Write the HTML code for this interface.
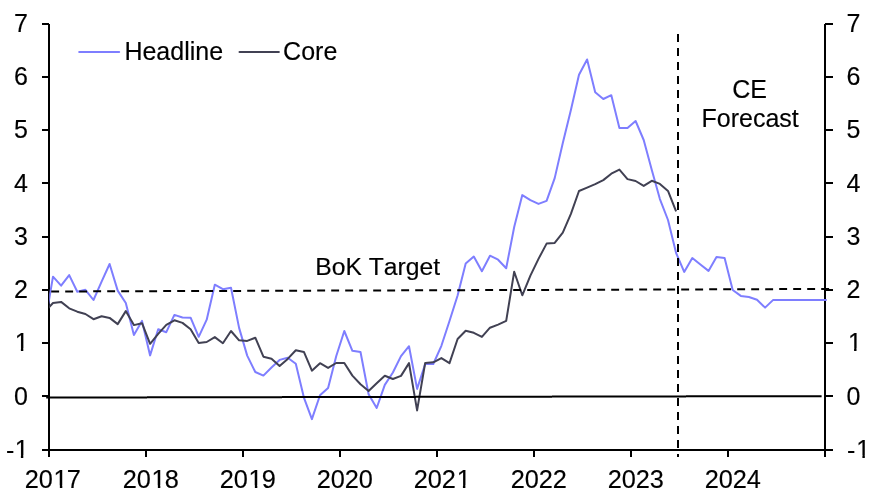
<!DOCTYPE html>
<html lang="en"><head><meta charset="utf-8"><title>Chart</title>
<style>
html,body{margin:0;padding:0;background:#fff;}
body{width:885px;height:497px;overflow:hidden;}
svg{display:block;}
text{font-family:"Liberation Sans",sans-serif;font-size:25px;fill:#000;font-kerning:none;stroke:#000;stroke-width:0.15px;stroke-linejoin:round;}
</style></head><body>
<svg width="885" height="497" viewBox="0 0 885 497">
<rect x="0" y="0" width="885" height="497" fill="#fff"/>
<defs><clipPath id="plot"><rect x="49.2" y="20" width="777.6" height="432"/></clipPath></defs>

<g fill="#000" shape-rendering="crispEdges">
<rect x="48" y="24" width="2" height="427"/>
<rect x="824" y="24" width="2" height="427"/>
<rect x="42" y="449" width="784" height="2"/>
<rect x="42" y="23" width="7" height="2"/>
<rect x="825" y="23" width="8" height="2"/>
<rect x="42" y="76" width="7" height="2"/>
<rect x="825" y="76" width="8" height="2"/>
<rect x="42" y="129" width="7" height="2"/>
<rect x="825" y="129" width="8" height="2"/>
<rect x="42" y="182" width="7" height="2"/>
<rect x="825" y="182" width="8" height="2"/>
<rect x="42" y="236" width="7" height="2"/>
<rect x="825" y="236" width="8" height="2"/>
<rect x="42" y="289" width="7" height="2"/>
<rect x="825" y="289" width="8" height="2"/>
<rect x="42" y="342" width="7" height="2"/>
<rect x="825" y="342" width="8" height="2"/>
<rect x="42" y="395" width="7" height="2"/>
<rect x="825" y="395" width="8" height="2"/>
<rect x="42" y="449" width="7" height="2"/>
<rect x="825" y="449" width="8" height="2"/>
<rect x="48" y="450" width="2" height="7"/>
<rect x="145" y="450" width="2" height="7"/>
<rect x="242" y="450" width="2" height="7"/>
<rect x="339" y="450" width="2" height="7"/>
<rect x="436" y="450" width="2" height="7"/>
<rect x="533" y="450" width="2" height="7"/>
<rect x="630" y="450" width="2" height="7"/>
<rect x="727" y="450" width="2" height="7"/>
<rect x="824" y="450" width="2" height="7"/>
</g>
<g clip-path="url(#plot)" fill="none" stroke-width="2" stroke-linejoin="round">
<polyline stroke="#7E7EFF" points="44.9,324.0 53.0,276.7 61.1,285.7 69.2,275.1 77.3,291.7 85.4,289.8 93.5,300.0 101.6,281.7 109.6,264.0 117.7,290.6 125.8,303.0 133.9,335.1 142.0,320.9 150.1,355.4 158.2,329.2 166.3,332.2 174.4,314.9 182.5,317.5 190.6,317.7 198.7,336.8 206.7,319.7 214.8,284.7 222.9,289.2 231.0,287.7 239.1,327.9 247.2,355.6 255.3,372.0 263.4,375.6 271.5,367.5 279.6,359.9 287.7,357.7 295.8,363.7 303.9,397.6 311.9,419.1 320.0,395.3 328.1,388.0 336.2,356.3 344.3,331.0 352.4,350.8 360.5,352.0 368.6,394.2 376.7,408.0 384.8,384.9 392.9,372.5 401.0,356.1 409.0,346.2 417.1,388.9 425.2,364.0 433.3,364.0 441.4,345.8 449.5,321.0 457.6,295.5 465.7,263.6 473.8,256.6 481.9,271.2 490.0,255.7 498.1,259.7 506.2,268.2 514.2,227.0 522.3,195.1 530.4,200.1 538.5,203.9 546.6,200.9 554.7,178.1 562.8,143.0 570.9,110.1 579.0,74.8 587.1,59.5 595.2,92.2 603.3,99.0 611.3,95.2 619.4,128.1 627.5,128.1 635.6,121.0 643.7,140.0 651.8,170.0 659.9,199.1 668.0,220.0 676.1,253.0 684.2,271.9 692.3,258.0 700.4,264.5 708.5,270.9 716.5,257.0 724.6,258.0 732.7,290.0 740.8,295.9 748.9,297.0 757.0,299.7 765.1,307.6 773.2,299.9 781.3,299.9 789.4,299.9 797.5,299.9 805.6,299.9 813.6,299.9 821.7,299.9 829.8,299.9"/>
<polyline stroke="#414153" points="44.9,311.5 53.0,303.0 61.1,301.9 69.2,308.3 77.3,311.7 85.4,314.0 93.5,319.2 101.6,316.2 109.6,317.9 117.7,324.1 125.8,311.1 133.9,325.1 142.0,323.2 150.1,343.8 158.2,333.9 166.3,324.9 174.4,320.3 182.5,322.9 190.6,329.2 198.7,342.9 206.7,342.0 214.8,337.1 222.9,343.2 231.0,331.0 239.1,340.3 247.2,340.9 255.3,337.7 263.4,356.7 271.5,358.8 279.6,366.0 287.7,358.9 295.8,350.2 303.9,351.9 311.9,370.7 320.0,363.2 328.1,367.9 336.2,363.0 344.3,363.0 352.4,375.6 360.5,384.2 368.6,391.0 376.7,383.2 384.8,375.7 392.9,379.0 401.0,375.9 409.0,363.1 417.1,410.4 425.2,362.9 433.3,362.3 441.4,358.1 449.5,363.1 457.6,339.0 465.7,330.7 473.8,332.8 481.9,336.9 490.0,327.7 498.1,324.6 506.2,320.9 514.2,271.7 522.3,295.3 530.4,275.6 538.5,258.9 546.6,243.6 554.7,242.9 562.8,232.7 570.9,213.8 579.0,191.0 587.1,187.6 595.2,184.1 603.3,180.1 611.3,173.7 619.4,169.6 627.5,179.1 635.6,181.0 643.7,185.9 651.8,180.8 659.9,183.9 668.0,190.9 676.1,211.3"/>
</g>
<g fill="#000">
<rect x="51.2" y="290.50" width="7.9" height="2"/>
<rect x="65.2" y="290.50" width="7.9" height="2"/>
<rect x="79.2" y="290.50" width="7.9" height="2"/>
<rect x="93.2" y="290.25" width="7.9" height="2"/>
<rect x="107.2" y="290.25" width="7.9" height="2"/>
<rect x="121.2" y="290.25" width="7.9" height="2"/>
<rect x="135.2" y="290.25" width="7.9" height="2"/>
<rect x="149.2" y="290.25" width="7.9" height="2"/>
<rect x="163.2" y="290.00" width="7.9" height="2"/>
<rect x="177.2" y="290.00" width="7.9" height="2"/>
<rect x="191.2" y="290.00" width="7.9" height="2"/>
<rect x="205.2" y="290.00" width="7.9" height="2"/>
<rect x="219.2" y="290.00" width="7.9" height="2"/>
<rect x="233.2" y="290.00" width="7.9" height="2"/>
<rect x="247.2" y="289.75" width="7.9" height="2"/>
<rect x="261.2" y="289.75" width="7.9" height="2"/>
<rect x="275.2" y="289.75" width="7.9" height="2"/>
<rect x="289.2" y="289.75" width="7.9" height="2"/>
<rect x="303.2" y="289.75" width="7.9" height="2"/>
<rect x="317.2" y="289.50" width="7.9" height="2"/>
<rect x="331.2" y="289.50" width="7.9" height="2"/>
<rect x="345.2" y="289.50" width="7.9" height="2"/>
<rect x="359.2" y="289.50" width="7.9" height="2"/>
<rect x="373.2" y="289.50" width="7.9" height="2"/>
<rect x="387.2" y="289.50" width="7.9" height="2"/>
<rect x="401.2" y="289.25" width="7.9" height="2"/>
<rect x="415.2" y="289.25" width="7.9" height="2"/>
<rect x="429.2" y="289.25" width="7.9" height="2"/>
<rect x="443.2" y="289.25" width="7.9" height="2"/>
<rect x="457.2" y="289.25" width="7.9" height="2"/>
<rect x="471.2" y="289.00" width="7.9" height="2"/>
<rect x="485.2" y="289.00" width="7.9" height="2"/>
<rect x="499.2" y="289.00" width="7.9" height="2"/>
<rect x="513.2" y="289.00" width="7.9" height="2"/>
<rect x="527.2" y="289.00" width="7.9" height="2"/>
<rect x="541.2" y="289.00" width="7.9" height="2"/>
<rect x="555.2" y="288.75" width="7.9" height="2"/>
<rect x="569.2" y="288.75" width="7.9" height="2"/>
<rect x="583.2" y="288.75" width="7.9" height="2"/>
<rect x="597.2" y="288.75" width="7.9" height="2"/>
<rect x="611.2" y="288.75" width="7.9" height="2"/>
<rect x="625.2" y="288.50" width="7.9" height="2"/>
<rect x="639.2" y="288.50" width="7.9" height="2"/>
<rect x="653.2" y="288.50" width="7.9" height="2"/>
<rect x="667.2" y="288.50" width="7.9" height="2"/>
<rect x="681.2" y="288.50" width="7.9" height="2"/>
<rect x="695.2" y="288.50" width="7.9" height="2"/>
<rect x="709.2" y="288.25" width="7.9" height="2"/>
<rect x="723.2" y="288.25" width="7.9" height="2"/>
<rect x="737.2" y="288.25" width="7.9" height="2"/>
<rect x="751.2" y="288.25" width="7.9" height="2"/>
<rect x="765.2" y="288.25" width="7.9" height="2"/>
<rect x="779.2" y="288.00" width="7.9" height="2"/>
<rect x="793.2" y="288.00" width="7.9" height="2"/>
<rect x="807.2" y="288.00" width="7.9" height="2"/>
<rect x="821.2" y="288.00" width="7.9" height="2"/>
</g>
<g fill="#000">
<rect x="46.2" y="396.5" width="100.8" height="2"/>
<rect x="147" y="396.25" width="135.0" height="2"/>
<rect x="282" y="396.0" width="134.0" height="2"/>
<rect x="416" y="395.75" width="136.0" height="2"/>
<rect x="552" y="395.5" width="134.0" height="2"/>
<rect x="686" y="395.25" width="135.6" height="2"/>
</g>
<line x1="678" y1="34" x2="678" y2="457" stroke="#000" stroke-width="2" stroke-dasharray="8 6" shape-rendering="crispEdges"/>
<line x1="79.2" y1="52" x2="119.2" y2="52" stroke="#7E7EFF" stroke-width="2" stroke-linecap="round"/>
<text x="124.4" y="60">Headline</text>
<line x1="239.5" y1="52" x2="278.9" y2="52" stroke="#414153" stroke-width="2" stroke-linecap="round"/>
<text x="283.1" y="60">Core</text>
<text x="749.5" y="97.9" text-anchor="middle">CE</text>
<text x="750.2" y="126.8" text-anchor="middle">Forecast</text>
<text x="377.7" y="274.7" text-anchor="middle" style="font-size:24.7px">BoK Target</text>
<text x="13.90" y="31.8">7</text>
<text x="846.50" y="31.8">7</text>
<text x="13.90" y="85.0">6</text>
<text x="846.50" y="85.0">6</text>
<text x="13.90" y="138.3">5</text>
<text x="846.50" y="138.3">5</text>
<text x="13.90" y="191.6">4</text>
<text x="846.50" y="191.6">4</text>
<text x="13.90" y="244.8">3</text>
<text x="846.50" y="244.8">3</text>
<text x="13.90" y="298.1">2</text>
<text x="846.50" y="298.1">2</text>
<text x="14.70" y="351.3">1</text>
<text x="847.90" y="351.3">1</text>
<text x="13.90" y="404.6">0</text>
<text x="846.50" y="404.6">0</text>
<text x="5.97 14.70" y="458.8 457.8">-1</text>
<text x="846.90 856.23" y="458.8 457.8">-1</text>
<text x="24.66 38.73 53.60 66.87" y="487.6" style="font-size:25.3px">2017</text>
<text x="122.66 136.73 151.60 164.87" y="487.6" style="font-size:25.3px">2018</text>
<text x="219.66 233.73 248.60 261.87" y="487.6" style="font-size:25.3px">2019</text>
<text x="316.66 330.73 344.80 358.87" y="487.6" style="font-size:25.3px">2020</text>
<text x="413.66 427.73 441.80 456.67" y="487.6" style="font-size:25.3px">2021</text>
<text x="510.66 524.73 538.80 552.87" y="487.6" style="font-size:25.3px">2022</text>
<text x="607.66 621.73 635.80 649.87" y="487.6" style="font-size:25.3px">2023</text>
<text x="704.66 718.73 732.80 746.87" y="487.6" style="font-size:25.3px">2024</text>
<g fill="#fff">
<rect x="15.70" y="348.5" width="5.18" height="3.0"/>
<rect x="23.29" y="348.5" width="4.99" height="3.0"/>
<rect x="848.90" y="348.5" width="5.18" height="3.0"/>
<rect x="856.50" y="348.5" width="4.99" height="3.0"/>
<rect x="15.70" y="455.5" width="5.18" height="3.0"/>
<rect x="23.29" y="455.5" width="4.99" height="3.0"/>
<rect x="857.23" y="455.5" width="5.18" height="3.0"/>
<rect x="864.82" y="455.5" width="4.99" height="3.0"/>
<rect x="54.63" y="485.5" width="5.23" height="3.0"/>
<rect x="62.30" y="485.5" width="5.04" height="3.0"/>
<rect x="152.63" y="485.5" width="5.23" height="3.0"/>
<rect x="160.30" y="485.5" width="5.04" height="3.0"/>
<rect x="249.63" y="485.5" width="5.23" height="3.0"/>
<rect x="257.30" y="485.5" width="5.04" height="3.0"/>
<rect x="457.70" y="485.5" width="5.23" height="3.0"/>
<rect x="465.37" y="485.5" width="5.04" height="3.0"/>
</g>
</svg></body></html>
